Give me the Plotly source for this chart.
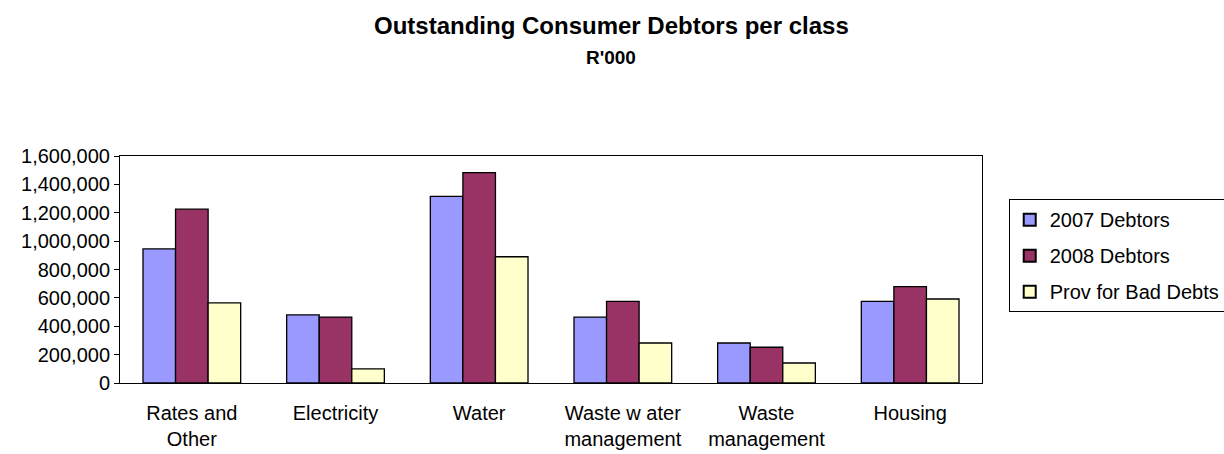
import plotly.graph_objects as go

categories = ["Rates and<br>Other", "Electricity", "Water", "Waste w ater<br>management", "Waste<br>management", "Housing"]
debtors_2007 = [945000, 480000, 1315000, 465000, 282000, 575000]
debtors_2008 = [1225000, 465000, 1483000, 575000, 252000, 679000]
prov_bad_debts = [565000, 100000, 890000, 282000, 141000, 592000]
series_names = ["2007 Debtors", "2008 Debtors", "Prov for Bad Debts"]
colors = ["#9999FF", "#993366", "#FFFFCC"]
y_ticks = [0, 200000, 400000, 600000, 800000, 1000000, 1200000, 1400000, 1600000]

fig = go.Figure()
for name, vals, col in zip(series_names, [debtors_2007, debtors_2008, prov_bad_debts], colors):
    fig.add_trace(go.Bar(
        name=name, x=categories, y=vals, legendgroup=name,
        marker=dict(color=col, line=dict(color="black", width=1.3)),
    ))

title_x = (611 - 120) / 862

fig.update_layout(
    width=1224, height=454,
    margin=dict(l=120, r=242, t=156, b=71, autoexpand=False),
    paper_bgcolor="white", plot_bgcolor="white",
    barmode="group", bargap=0.32, bargroupgap=0,
    font=dict(family="Liberation Sans, Arial, sans-serif", size=20, color="black"),
    showlegend=True,
    legend=dict(x=1.031, y=0.81, xanchor="left", yanchor="top",
                bordercolor="black", borderwidth=1, bgcolor="white",
                font=dict(size=20), tracegroupgap=7, itemwidth=30,
                itemsizing="constant"),
    annotations=[
        dict(text="<b>Outstanding Consumer Debtors per class</b>", xref="paper", yref="paper",
             x=title_x, y=1, xanchor="center", yanchor="middle", yshift=131, showarrow=False,
             font=dict(size=24)),
        dict(text="<b>R'000</b>", xref="paper", yref="paper",
             x=title_x, y=1, xanchor="center", yanchor="middle", yshift=99, showarrow=False,
             font=dict(size=19)),
    ],
)
fig.update_yaxes(range=[0, 1600000], tickvals=y_ticks, tickformat=",", showgrid=False,
                 showline=True, linecolor="black", linewidth=1, mirror=True,
                 ticks="outside", ticklen=5, tickcolor="black", zeroline=False,
                 tickfont=dict(size=20))
fig.update_xaxes(showgrid=False, showline=True, linecolor="black", linewidth=1, mirror=True,
                 ticks="", tickfont=dict(size=20), ticklabelstandoff=12)

fig.write_html("out.html")
